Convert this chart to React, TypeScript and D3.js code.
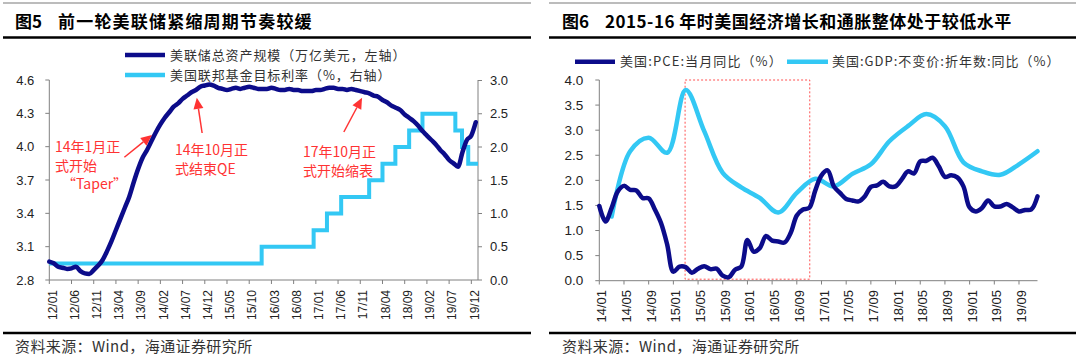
import React from 'react';
import * as d3 from 'd3';

const NUM_FONT = '"Liberation Sans", Arial, "Noto Sans CJK SC", sans-serif';
const CJK_FONT = '"Noto Sans CJK SC", "Liberation Sans", sans-serif';

const NAVY = '#0c0c8a';
const SKY = '#33c8f4';
const RED = '#ff3333';
const AXIS = '#808080';

// ---------- Left chart data (month index 0 = 2012/01) ----------
const leftTickMonths = [0, 5, 10, 15, 20, 25, 30, 35, 40, 45, 50, 55, 60, 65, 70, 75, 80, 85, 90, 95];
const leftTickLabels = ['12/01', '12/06', '12/11', '13/04', '13/09', '14/02', '14/07', '14/12', '15/05', '15/10', '16/03', '16/08', '17/01', '17/06', '17/11', '18/04', '18/09', '19/02', '19/07', '19/12'];
const leftYTicks = [2.8, 3.1, 3.4, 3.7, 4.0, 4.3, 4.6];
const rightYTicks = [0, 0.5, 1.0, 1.5, 2.0, 2.5, 3.0];

// Fed total assets (trillion USD), monthly
const fedAssets = [
  2.965, 2.95, 2.92, 2.91, 2.9, 2.905, 2.92, 2.88, 2.86, 2.855, 2.89, 2.93,
  2.98, 3.06, 3.15, 3.25, 3.35, 3.45, 3.55, 3.68, 3.8, 3.9, 3.97, 4.05,
  4.13, 4.2, 4.26, 4.31, 4.36, 4.39, 4.43, 4.46, 4.49, 4.51, 4.54, 4.55,
  4.56, 4.55, 4.53, 4.52, 4.51, 4.52, 4.53, 4.52, 4.53, 4.54, 4.53, 4.52,
  4.52, 4.52, 4.53, 4.52, 4.51, 4.51, 4.52, 4.51, 4.51, 4.5, 4.5, 4.5,
  4.51, 4.51, 4.52, 4.53, 4.53, 4.52, 4.52, 4.51, 4.52, 4.51, 4.5, 4.49,
  4.48, 4.46, 4.45, 4.42, 4.4, 4.37, 4.35, 4.33, 4.29, 4.26, 4.23, 4.19,
  4.14, 4.1, 4.06, 4.02, 3.97, 3.93, 3.88, 3.85, 3.82, 3.95, 4.06, 4.1,
  4.22,
];
// Fed funds target rate (%), step changes
const rateChangeMonths = [0, 47.8, 59.5, 62.5, 65.7, 72, 75, 77.9, 81, 84, 91.4, 92.9, 94.3, 96.5];
const rateLevels = [0.25, 0.5, 0.75, 1.0, 1.25, 1.5, 1.75, 2.0, 2.25, 2.5, 2.25, 2.0, 1.75, 1.75];

const leftAnnotations = [
  { lines: ['14年1月正', '式开始', '“Taper”'], textMonth: 1.3, textValue: 3.952, indent: [0, 0, 7], tail: [16.9, 3.905], tip: [23.1, 4.105] },
  { lines: ['14年10月正', '式结束QE'], textMonth: 28.3, textValue: 3.925, indent: [0, 0], tail: [34.4, 4.123], tip: [33.2, 4.44] },
  { lines: ['17年10月正', '式开始缩表'], textMonth: 57.1, textValue: 3.907, indent: [0, 0], tail: [66.3, 4.132], tip: [70.4, 4.44] },
];

// ---------- Right chart data (month index 0 = 2014/01) ----------
const rightTickMonths = [0, 4, 8, 12, 16, 20, 24, 28, 32, 36, 40, 44, 48, 52, 56, 60, 64, 68];
const rightTickLabels = ['14/01', '14/05', '14/09', '15/01', '15/05', '15/09', '16/01', '16/05', '16/09', '17/01', '17/05', '17/09', '18/01', '18/05', '18/09', '19/01', '19/05', '19/09'];
const right2YTicks = [0, 0.5, 1.0, 1.5, 2.0, 2.5, 3.0, 3.5, 4.0];

const pceYoY = [
  1.49, 1.18, 1.45, 1.78, 1.89, 1.81, 1.8, 1.65, 1.64, 1.42, 1.15, 0.72,
  0.18, 0.28, 0.27, 0.16, 0.24, 0.29, 0.23, 0.24, 0.1, 0.07, 0.22, 0.28,
  0.81, 0.58, 0.65, 0.89, 0.8, 0.78, 0.76, 0.95, 1.3, 1.42, 1.45, 1.8,
  2.1, 2.2, 1.88, 1.75, 1.63, 1.6, 1.58, 1.68, 1.87, 1.9, 1.97, 1.88,
  1.88, 2.02, 2.18, 2.14, 2.38, 2.39, 2.45, 2.28, 2.07, 2.1, 2.06, 1.88,
  1.46, 1.38, 1.45, 1.6, 1.48, 1.48, 1.53, 1.46, 1.38, 1.41, 1.42, 1.68,
];
const gdpMonths = [2, 5, 8, 11, 14, 17, 20, 23, 26, 29, 32, 35, 38, 41, 44, 47, 50, 53, 56, 59, 62, 65, 68, 71];
const gdpYoY = [1.28, 2.58, 2.85, 2.55, 3.8, 2.98, 2.15, 1.86, 1.65, 1.36, 1.75, 2.03, 1.88, 2.13, 2.32, 2.78, 3.08, 3.32, 3.08, 2.36, 2.18, 2.11, 2.32, 2.58];
const highlightMonths = [13.9, 34.1];
const highlightValues = [0.03, 4.0];

function Arrow({ x1, y1, x2, y2 }: { x1: number; y1: number; x2: number; y2: number }) {
  const dx = x2 - x1;
  const dy = y2 - y1;
  const len = Math.sqrt(dx * dx + dy * dy);
  const ux = dx / len;
  const uy = dy / len;
  const hl = 11;
  const hw = 5;
  const bx = x2 - ux * hl;
  const by = y2 - uy * hl;
  const pts = [
    [x2, y2],
    [bx - uy * hw, by + ux * hw],
    [bx + uy * hw, by - ux * hw],
  ];
  return (
    <g>
      <line x1={x1} y1={y1} x2={bx} y2={by} stroke={RED} strokeWidth={1.5} />
      <polygon points={pts.map((p) => p.join(',')).join(' ')} fill={RED} />
    </g>
  );
}

function LeftChart() {
  const x = d3.scaleLinear().domain([0, 96.5]).range([49.3, 478]);
  const yL = d3.scaleLinear().domain([2.8, 4.6]).range([280, 80]);
  const yR = d3.scaleLinear().domain([0, 3]).range([280, 80.5]);

  const assetsLine = d3
    .line<number>()
    .x((_, i) => x(i))
    .y((d) => yL(d))
    .curve(d3.curveMonotoneX)(fedAssets) as string;

  const ratePts = rateChangeMonths.map((m, i) => [m, rateLevels[i]] as [number, number]);
  const rateLine = d3
    .line<[number, number]>()
    .x((d) => x(d[0]))
    .y((d) => yR(d[1]))
    .curve(d3.curveStepAfter)(ratePts) as string;

  const [x0, x1] = x.range();
  return (
    <g>
      {/* header */}
      <line x1={3} x2={531} y1={3} y2={3} stroke="#a6a6a6" strokeWidth={1.5} />
      <text x={15} y={27.5} fontFamily={CJK_FONT} fontWeight="bold" fontSize={17} fill="#000">图5</text>
      <text x={58} y={27.5} fontFamily={CJK_FONT} fontWeight="bold" fontSize={17} letterSpacing={1.2} fill="#000">前一轮美联储紧缩周期节奏较缓</text>
      <line x1={3} x2={531} y1={37.5} y2={37.5} stroke="#000" strokeWidth={2.5} />

      {/* legend */}
      <line x1={125} x2={165} y1={55} y2={55} stroke={NAVY} strokeWidth={4.5} />
      <text x={170} y={59.5} fontFamily={CJK_FONT} fontSize={13} letterSpacing={0.9} fill="#333">美联储总资产规模（万亿美元，左轴）</text>
      <line x1={125} x2={165} y1={75} y2={75} stroke={SKY} strokeWidth={4.5} />
      <text x={170} y={79.5} fontFamily={CJK_FONT} fontSize={13} letterSpacing={0.9} fill="#333">美国联邦基金目标利率（%，右轴）</text>

      {/* axes */}
      <line x1={x0} x2={x0} y1={80} y2={280} stroke={AXIS} strokeWidth={1} />
      <line x1={x1} x2={x1} y1={80} y2={280} stroke={AXIS} strokeWidth={1} />
      <line x1={x0} x2={x1} y1={280} y2={280} stroke={AXIS} strokeWidth={1} />
      {leftYTicks.map((t) => (
        <g key={'l' + t}>
          <line x1={x0 - 4} x2={x0} y1={yL(t)} y2={yL(t)} stroke={AXIS} />
          <text x={x0 - 15} y={yL(t)} dy="0.35em" textAnchor="end" fontFamily={NUM_FONT} fontSize={13} fill="#222">{t.toFixed(1)}</text>
        </g>
      ))}
      {rightYTicks.map((t) => (
        <g key={'r' + t}>
          <line x1={x1} x2={x1 + 4} y1={yR(t)} y2={yR(t)} stroke={AXIS} />
          <text x={x1 + 12} y={yR(t)} dy="0.35em" textAnchor="start" fontFamily={NUM_FONT} fontSize={13} fill="#222">{t.toFixed(1)}</text>
        </g>
      ))}
      {leftTickMonths.map((m, i) => (
        <g key={'x' + m}>
          <line x1={x(m)} x2={x(m)} y1={280} y2={284} stroke={AXIS} />
          <text
            transform={`translate(${x(m) + 3},${290}) rotate(-90)`}
            textAnchor="end"
            dy="0.35em"
            fontFamily={NUM_FONT}
            fontSize={12}
            fill="#222"
          >
            {leftTickLabels[i]}
          </text>
        </g>
      ))}

      {/* series */}
      <path d={rateLine} fill="none" stroke={SKY} strokeWidth={4} strokeLinejoin="miter" />
      <path d={assetsLine} fill="none" stroke={NAVY} strokeWidth={4.5} strokeLinejoin="round" strokeLinecap="round" />

      {/* annotations */}
      {leftAnnotations.map((a, i) => (
        <g key={'a' + i}>
          {a.lines.map((ln, j) => (
            <text key={j} x={x(a.textMonth) + a.indent[j]} y={yL(a.textValue) + j * 18.5} fontFamily={CJK_FONT} fontSize={14} fill={RED}>
              {ln}
            </text>
          ))}
          <Arrow x1={x(a.tail[0])} y1={yL(a.tail[1])} x2={x(a.tip[0])} y2={yL(a.tip[1])} />
        </g>
      ))}

      {/* footer */}
      <line x1={3} x2={531} y1={333} y2={333} stroke="#000" strokeWidth={2.5} />
      <text x={15} y={352} fontFamily={CJK_FONT} fontSize={15} letterSpacing={0.4} fill="#333">资料来源：Wind，海通证券研究所</text>
    </g>
  );
}

function RightChart() {
  const x = d3.scaleLinear().domain([0, 71]).range([599.3, 1037.5]);
  const y = d3.scaleLinear().domain([0, 4]).range([280.7, 80]);

  const pceLine = d3
    .line<number>()
    .x((_, i) => x(i))
    .y((d) => y(d))
    .curve(d3.curveCatmullRom.alpha(0.5))(pceYoY) as string;

  const gdpLine = d3
    .line<number>()
    .x((_, i) => x(gdpMonths[i]))
    .y((d) => y(d))
    .curve(d3.curveCatmullRom.alpha(0.5))(gdpYoY) as string;

  const [x0, x1] = x.range();
  const rx0 = x(highlightMonths[0]);
  const rx1 = x(highlightMonths[1]);
  const ry0 = y(highlightValues[1]);
  const ry1 = y(highlightValues[0]);

  return (
    <g>
      <line x1={549} x2={1076} y1={3} y2={3} stroke="#a6a6a6" strokeWidth={1.5} />
      <text x={562} y={27.5} fontFamily={CJK_FONT} fontWeight="bold" fontSize={17} fill="#000">图6</text>
      <text x={605} y={27.5} fontFamily={CJK_FONT} fontWeight="bold" fontSize={17} letterSpacing={0.5} fill="#000">2015-16 年时美国经济增长和通胀整体处于较低水平</text>
      <line x1={549} x2={1076} y1={37.5} y2={37.5} stroke="#000" strokeWidth={2.5} />

      {/* legend */}
      <line x1={575} x2={615} y1={61.7} y2={61.7} stroke={NAVY} strokeWidth={4.5} />
      <text x={620} y={66.2} fontFamily={CJK_FONT} fontSize={13} letterSpacing={1.1} fill="#333">美国:PCE:当月同比（%）</text>
      <line x1={787} x2={828} y1={61.7} y2={61.7} stroke={SKY} strokeWidth={4.5} />
      <text x={832} y={66.2} fontFamily={CJK_FONT} fontSize={13} letterSpacing={1.0} fill="#333">美国:GDP:不变价:折年数:同比（%）</text>

      {/* axes */}
      <line x1={x0} x2={x0} y1={80} y2={280.7} stroke={AXIS} />
      <line x1={x0} x2={x1} y1={280.7} y2={280.7} stroke={AXIS} />
      {right2YTicks.map((t) => (
        <g key={'y' + t}>
          <line x1={x0 - 4} x2={x0} y1={y(t)} y2={y(t)} stroke={AXIS} />
          <text x={x0 - 16} y={y(t)} dy="0.35em" textAnchor="end" fontFamily={NUM_FONT} fontSize={13.5} fill="#222">{t.toFixed(1)}</text>
        </g>
      ))}
      {rightTickMonths.map((m, i) => (
        <g key={'x' + m}>
          <line x1={x(m)} x2={x(m)} y1={280.7} y2={284.5} stroke={AXIS} />
          <text
            transform={`translate(${x(m) + 2.5},${290}) rotate(-90)`}
            textAnchor="end"
            dy="0.35em"
            fontFamily={NUM_FONT}
            fontSize={13}
            fill="#222"
          >
            {rightTickLabels[i]}
          </text>
        </g>
      ))}

      {/* highlight box */}
      <rect x={rx0} y={ry0} width={rx1 - rx0} height={ry1 - ry0} fill="none" stroke="#ff5050" strokeWidth={1} strokeDasharray="2,2" />

      {/* series */}
      <path d={gdpLine} fill="none" stroke={SKY} strokeWidth={4.5} strokeLinejoin="round" strokeLinecap="round" />
      <path d={pceLine} fill="none" stroke={NAVY} strokeWidth={4.5} strokeLinejoin="round" strokeLinecap="round" />

      <line x1={549} x2={1076} y1={333} y2={333} stroke="#000" strokeWidth={2.5} />
      <text x={562} y={352} fontFamily={CJK_FONT} fontSize={15} letterSpacing={0.4} fill="#333">资料来源：Wind，海通证券研究所</text>
    </g>
  );
}

export default function App() {
  return (
    <svg
      width={1080}
      height={358}
      viewBox="0 0 1080 358"
      style={{ position: 'absolute', left: 0, top: 0, background: '#fff' }}
    >
      <rect x={0} y={0} width={1080} height={358} fill="#fff" />
      <LeftChart />
      <RightChart />
    </svg>
  );
}
